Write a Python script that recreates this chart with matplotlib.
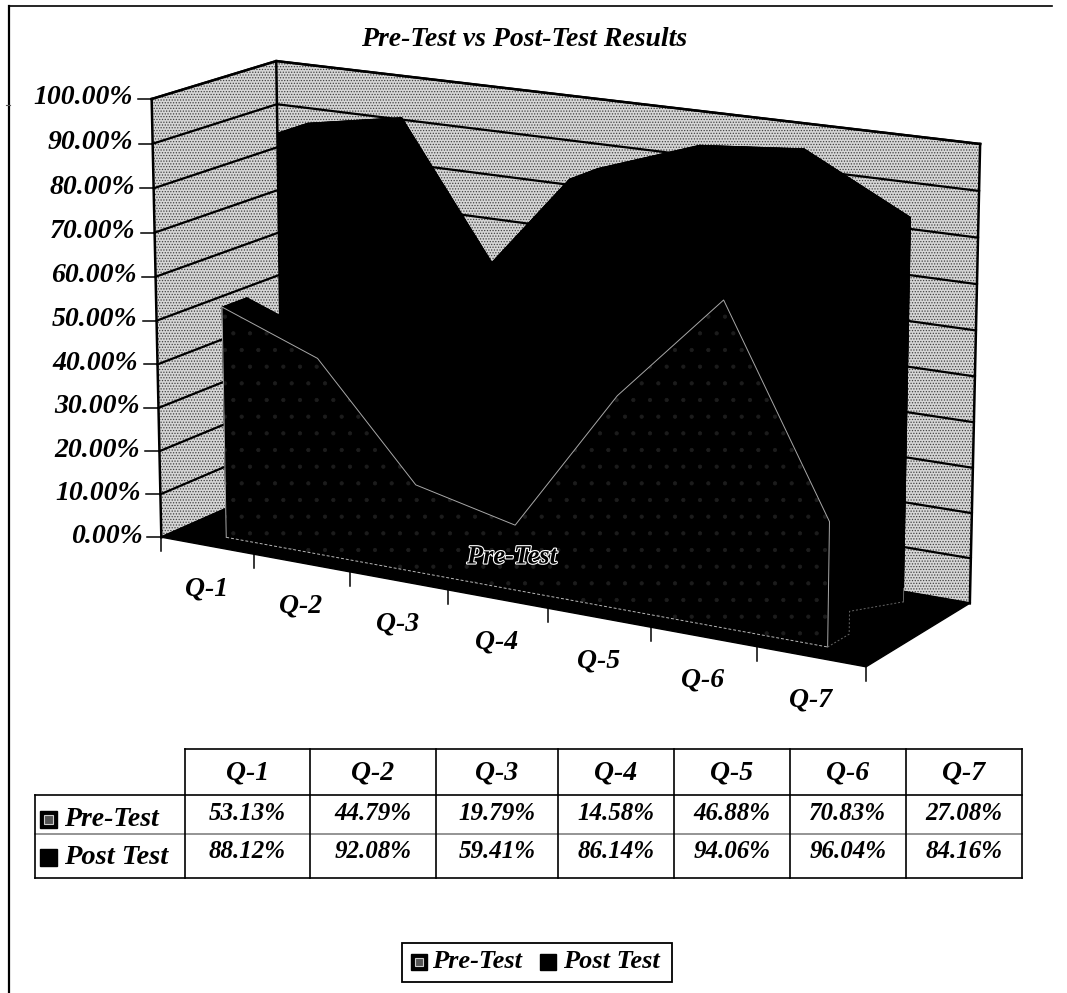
import matplotlib
matplotlib.use('Agg')
import matplotlib.pyplot as plt
import matplotlib.patheffects as pe
from matplotlib.patches import Polygon, Rectangle
import numpy as np

categories = ['Q-1', 'Q-2', 'Q-3', 'Q-4', 'Q-5', 'Q-6', 'Q-7']
pre_test = [53.13, 44.79, 19.79, 14.58, 46.88, 70.83, 27.08]
post_test = [88.12, 92.08, 59.41, 86.14, 94.06, 96.04, 84.16]
y_ticks = [0, 10, 20, 30, 40, 50, 60, 70, 80, 90, 100]

plt.rcParams['font.family'] = 'Liberation Serif'
plt.rcParams['font.style'] = 'italic'
plt.rcParams['font.weight'] = 'bold'
plt.rcParams['hatch.linewidth'] = 0.6

fig = plt.figure(figsize=(10.67, 9.93), dpi=100)
ax = fig.add_axes([0, 0, 1, 1])
ax.set_xlim(0, 1067)
ax.set_ylim(993, 0)
ax.axis('off')

# box corners (u, v, w) -> where they land in the picture
corners = [
    ((0, 0, 0), (162, 537)), ((0, 1, 0), (151, 99)),
    ((0, 1, 1), (277, 61)), ((0, 0, 1), (282, 484)),
    ((1, 1, 1), (980, 144)), ((1, 0, 1), (970, 603)),
    ((1, 0, 0), (866, 667)),
]
A = []
b = []
for (u, v, w), (px, py) in corners:
    A.append([u, v, w, 1, 0, 0, 0, 0, -px * u, -px * v, -px * w])
    A.append([0, 0, 0, 0, u, v, w, 1, -py * u, -py * v, -py * w])
    b += [px, py]
sol = np.linalg.lstsq(np.array(A, float), np.array(b, float), rcond=None)[0]
P = np.append(sol, 1).reshape(3, 4)


def project(cat, val, depth):
    # cat in category slots, val in percent, depth 0 (front) .. 1 (back)
    h = P @ np.array([cat / len(categories), val / 100, depth, 1])
    return h[0] / h[2], h[1] / h[2]


def face(points, **kw):
    ax.add_patch(Polygon([project(*p) for p in points], closed=True, **kw))


n = len(categories)
wall = dict(facecolor='#d6d6d6', edgecolor='#404040', hatch='......', linewidth=0, zorder=0.2)
face([(0, 0, 0), (0, 100, 0), (0, 100, 1), (0, 0, 1)], **wall)
face([(0, 0, 1), (0, 100, 1), (n, 100, 1), (n, 0, 1)], **wall)
face([(0, 0, 0), (0, 0, 1), (n, 0, 1), (n, 0, 0)], facecolor='black', edgecolor='black', zorder=0.6)

for t in y_ticks:
    pts = [project(0, t, 0), project(0, t, 1), project(n, t, 1)]
    ax.plot(*zip(*pts), color='black', lw=1.6, zorder=0.5)
    x0, y0 = pts[0]
    ax.plot([x0 - 14, x0], [y0, y0], color='black', lw=1.1)
    ax.text(x0 - 19, y0 - 1, f'{t:.2f}%', ha='right', va='center', fontsize=20)

for cat in (0, n):
    ax.plot(*zip(project(cat, 0, 1), project(cat, 100, 1)), color='black', lw=1.8, zorder=0.5)
ax.plot(*zip(project(0, 0, 0), project(0, 100, 0)), color='black', lw=1.8, zorder=0.5)
ax.plot(*zip(project(0, 100, 0), project(0, 100, 1), project(n, 100, 1)), color='black', lw=1.8, zorder=0.5)


def area(values, d0, d1):
    xs = [i + 0.5 for i in range(n)]
    front = [(x, v, d0) for x, v in zip(xs, values)]
    back = [(x, v, d1) for x, v in zip(xs, values)]
    style = dict(facecolor='black', edgecolor='black', linewidth=0.5)
    face(back + [(xs[-1], 0, d1), (xs[0], 0, d1)], **style)
    for i in range(n - 1):
        face([front[i], front[i + 1], back[i + 1], back[i]], **style)
    face([front[0], back[0], (xs[0], 0, d1), (xs[0], 0, d0)], **style)
    face([front[-1], back[-1], (xs[-1], 0, d1), (xs[-1], 0, d0)], **style)
    face(front + [(xs[-1], 0, d0), (xs[0], 0, d0)], **style)
    return front


xs = [i + 0.5 for i in range(n)]
pre_d0, pre_d1 = 0.15, 0.35
post_d0, post_d1 = 0.62, 0.87
area(post_test, post_d0, post_d1)
front = area(pre_test, pre_d0, pre_d1)
face(front + [(xs[-1], 0, pre_d0), (xs[0], 0, pre_d0)], facecolor='none', edgecolor='#1c1c1c',
     hatch='.', linewidth=0)

# thin light outline of the pre-test front face
outline = [project(xs[0], 0, pre_d0)] + [project(*p) for p in front] + [project(xs[-1], 0, pre_d0)]
ax.plot(*zip(*outline), color='#a8a8a8', lw=0.7)
ax.plot(*zip(project(xs[0], 0, pre_d0), project(xs[-1], 0, pre_d0)), color='#b8b8b8', lw=0.7, ls=(0, (3, 2)))
side = [project(xs[-1], 0, pre_d0), project(xs[-1], 0, pre_d1), project(xs[-1], 5, pre_d1), project(xs[-1], 0, post_d1)]
ax.plot(*zip(*side), color='#666666', lw=0.7, ls=(0, (2, 2)))
ax.plot(*zip(project(xs[-1], 0, post_d1), project(xs[-1], 3, post_d1)), color='#666666', lw=0.7)

for i in range(n + 1):
    x0, y0 = project(i, 0, 0)
    ax.plot([x0, x0], [y0, y0 + 14], color='black', lw=1.1)
for i, c in enumerate(categories):
    x0, y0 = project(i + 0.5, 0, 0)
    ax.text(x0 - 1, y0 + 43, c, ha='center', va='center', fontsize=20)

ax.text(512, 557, 'Pre-Test', ha='center', va='center', fontsize=19, color='black',
        path_effects=[pe.withStroke(linewidth=1.6, foreground='white')])
ax.text(524, 39, 'Pre-Test vs Post-Test Results', ha='center', va='center', fontsize=20)

# frame
ax.plot([9, 9], [6, 993], color='black', lw=1.6)
ax.plot([9, 1052], [6, 6], color='black', lw=1.2)
ax.plot([6, 10], [105, 105], color='#555555', lw=0.8)

# table under the chart
col_x = [185, 310, 436, 558, 674, 790, 906, 1022]
row_y = [749, 795, 834, 878]
left_x = 35
ax.plot([col_x[0], col_x[-1]], [row_y[0]] * 2, color='black', lw=1.2)
ax.plot([left_x, col_x[-1]], [row_y[1]] * 2, color='black', lw=1.2)
ax.plot([left_x, col_x[-1]], [row_y[2]] * 2, color='#777777', lw=1.1)
ax.plot([left_x, col_x[-1]], [row_y[3]] * 2, color='black', lw=1.2)
ax.plot([left_x, left_x], [row_y[1], row_y[3]], color='black', lw=1.2)
for x in col_x:
    ax.plot([x, x], [row_y[0], row_y[3]], color='black', lw=1.2)
for i, c in enumerate(categories):
    cx = (col_x[i] + col_x[i + 1]) / 2
    ax.text(cx, 773, c, ha='center', va='center', fontsize=20)
    ax.text(cx, 813, f'{pre_test[i]:.2f}%', ha='center', va='center', fontsize=18)
    ax.text(cx, 852, f'{post_test[i]:.2f}%', ha='center', va='center', fontsize=18)


def key(x, y, size, pattern):
    ax.add_patch(Rectangle((x, y), size, size, facecolor='black', edgecolor='black', lw=1))
    if pattern:
        ax.add_patch(Rectangle((x + 4, y + 4), size - 8, size - 8, facecolor='#555555', edgecolor='#cccccc', lw=0.8))


key(40, 811, 17, True)
key(40, 849, 17, False)
ax.text(64, 820, 'Pre-Test', ha='left', va='center', fontsize=20)
ax.text(64, 858, 'Post Test', ha='left', va='center', fontsize=20.5)

# legend box
ax.add_patch(Rectangle((402, 943), 270, 39, facecolor='white', edgecolor='black', lw=1.3))
key(411, 954, 16, True)
key(540, 954, 16, False)
ax.text(432, 962, 'Pre-Test', ha='left', va='center', fontsize=19)
ax.text(563, 962, 'Post Test', ha='left', va='center', fontsize=19)

fig.savefig('out.png', dpi=100)
